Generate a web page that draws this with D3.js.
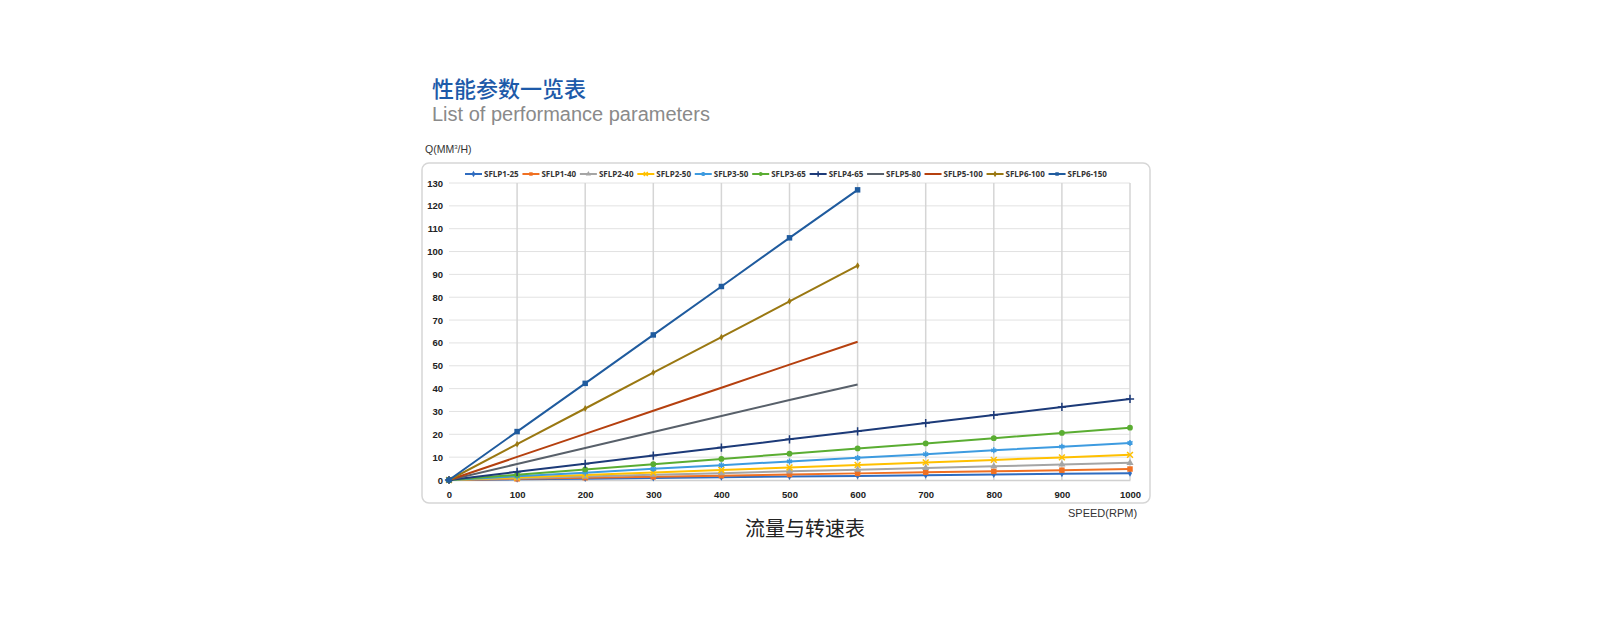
<!DOCTYPE html>
<html>
<head>
<meta charset="utf-8">
<script src="https://cdn.jsdelivr.net/npm/d3@7"></script>
<style>
  body { margin: 0; background: #fff; }
  svg { display: block; }
</style>
</head>
<body>
<script>
'use strict';

// speeds (RPM) along the x axis
var speeds = [0, 100, 200, 300, 400, 500, 600, 700, 800, 900, 1000];
var xTicks = [0, 100, 200, 300, 400, 500, 600, 700, 800, 900, 1000];
var yTicks = [0, 10, 20, 30, 40, 50, 60, 70, 80, 90, 100, 110, 120, 130];

var seriesNames = ["SFLP1-25", "SFLP1-40", "SFLP2-40", "SFLP2-50", "SFLP3-50", "SFLP3-65",
                   "SFLP4-65", "SFLP5-80", "SFLP5-100", "SFLP6-100", "SFLP6-150"];
var seriesColors = ["#2f6cc0", "#f07022", "#a5a5a5", "#ffc000", "#3d9be0", "#5aad32",
                    "#1c3a78", "#58606a", "#b5400f", "#9a7812", "#1f5b9e"];
var seriesMarkers = ["diamond", "square", "triangle", "cross", "star", "circle",
                     "plus", "none", "none", "diamond", "square"];

// flow Q, one array per pump
var q1_25  = [0, 0.3, 0.6, 0.9, 1.2, 1.5, 1.8, 2.1, 2.4, 2.7, 3.0];
var q1_40  = [0, 0.5, 1.0, 1.4, 1.9, 2.4, 2.9, 3.4, 3.8, 4.3, 4.8];
var q2_40  = [0, 0.8, 1.5, 2.3, 3.0, 3.8, 4.5, 5.3, 6.0, 6.8, 7.5];
var q2_50  = [0, 1.1, 2.2, 3.3, 4.4, 5.5, 6.6, 7.7, 8.8, 9.9, 11.0];
var q3_50  = [0, 1.6, 3.2, 4.9, 6.5, 8.1, 9.7, 11.3, 13.0, 14.6, 16.2];
var q3_65  = [0, 2.3, 4.6, 6.9, 9.2, 11.5, 13.8, 16.0, 18.3, 20.6, 22.9];
var q4_65  = [0, 3.6, 7.1, 10.7, 14.2, 17.8, 21.3, 24.9, 28.4, 32.0, 35.5];
var q5_80  = [0, 7.0, 14.0, 21.0, 28.0, 35.0, 41.8];
var q5_100 = [0, 10.1, 20.2, 30.3, 40.4, 50.5, 60.5];
var q6_100 = [0, 15.7, 31.3, 47.0, 62.5, 78.2, 93.8];
var q6_150 = [0, 21.2, 42.3, 63.5, 84.7, 106.0, 127.0];

var seriesValues = [q1_25, q1_40, q2_40, q2_50, q3_50, q3_65, q4_65, q5_80, q5_100, q6_100, q6_150];

var svg = d3.select("body").append("svg")
    .attr("width", 1600)
    .attr("height", 625);

// headings
svg.append("text")
    .attr("x", 432).attr("y", 97)
    .attr("font-family", "'Noto Sans CJK SC', sans-serif")
    .attr("font-size", 22)
    .attr("font-weight", 500)
    .attr("fill", "#1d5aa9")
    .text("性能参数一览表");

svg.append("text")
    .attr("x", 432).attr("y", 121)
    .attr("font-family", "'Liberation Sans', Arial, sans-serif")
    .attr("font-size", 20)
    .attr("fill", "#8a8a8a")
    .text("List of performance parameters");

svg.append("text")
    .attr("x", 425).attr("y", 153)
    .attr("font-family", "'Liberation Sans', Arial, sans-serif")
    .attr("font-size", 10.5)
    .attr("fill", "#333")
    .html("Q(MM<tspan font-size='6' dy='-4'>3</tspan><tspan dy='4'>/H)</tspan>");

// frame around the chart
svg.append("rect")
    .attr("x", 422).attr("y", 163)
    .attr("width", 728).attr("height", 340)
    .attr("rx", 7)
    .attr("fill", "#fff")
    .attr("stroke", "#d6d6d6")
    .attr("stroke-width", 1.5);

var plotLeft = 449, plotRight = 1130, plotTop = 183, plotBottom = 480;

var x = d3.scaleLinear().domain([0, 1000]).range([plotLeft, plotRight]);
var y = d3.scaleLinear().domain([0, 130]).range([plotBottom, plotTop]);

var g = svg.append("g");

// grid
g.selectAll(".hgrid").data(yTicks.slice(1)).enter().append("line")
    .attr("x1", plotLeft).attr("x2", plotRight)
    .attr("y1", function(d) { return y(d); })
    .attr("y2", function(d) { return y(d); })
    .attr("stroke", "#e2e2e2").attr("stroke-width", 1);

g.selectAll(".vgrid").data(xTicks.slice(1)).enter().append("line")
    .attr("y1", plotTop).attr("y2", plotBottom)
    .attr("x1", function(d) { return x(d); })
    .attr("x2", function(d) { return x(d); })
    .attr("stroke", "#d5d5d5").attr("stroke-width", 1.5);

// axes
var xAxis = g.append("g")
    .attr("transform", "translate(0," + plotBottom + ")")
    .call(d3.axisBottom(x).tickValues(xTicks).tickSize(0).tickPadding(11).tickFormat(d3.format("d")));
var yAxis = g.append("g")
    .attr("transform", "translate(" + plotLeft + ",0)")
    .call(d3.axisLeft(y).tickValues(yTicks).tickSize(0).tickPadding(6).tickFormat(d3.format("d")));

[xAxis, yAxis].forEach(function(a) {
    a.select(".domain").attr("stroke", "#d0d0d0").attr("stroke-width", 1.5);
    a.selectAll("text")
        .attr("font-family", "'Liberation Sans', Arial, sans-serif")
        .attr("font-size", 9.5)
        .attr("font-weight", "bold")
        .attr("fill", "#222");
});
yAxis.select(".domain").remove();

svg.append("text")
    .attr("x", 1068).attr("y", 517)
    .attr("font-family", "'Liberation Sans', Arial, sans-serif")
    .attr("font-size", 11)
    .attr("fill", "#333")
    .text("SPEED(RPM)");

svg.append("text")
    .attr("x", 805).attr("y", 536)
    .attr("text-anchor", "middle")
    .attr("font-family", "'Noto Sans CJK SC', sans-serif")
    .attr("font-size", 20)
    .attr("fill", "#222")
    .text("流量与转速表");

// markers
var markerSymbols = {
    diamond: d3.symbolDiamond, square: d3.symbolSquare, triangle: d3.symbolTriangle,
    cross: d3.symbolX, star: d3.symbolAsterisk, circle: d3.symbolCircle, plus: d3.symbolPlus
};

function drawMarker(sel, type, color, size) {
    if (type === "none") return;
    var sym = d3.symbol().type(markerSymbols[type]).size(size);
    var path = sel.append("path").attr("d", sym);
    if (type === "cross" || type === "star" || type === "plus") {
        path.attr("fill", "none").attr("stroke", color).attr("stroke-width", 1.5);
    } else {
        path.attr("fill", color);
    }
}

var markerSizes = {diamond: 14, square: 30, triangle: 22, cross: 24, star: 24, circle: 26, plus: 24};

var line = d3.line()
    .x(function(d, i) { return x(speeds[i]); })
    .y(function(d) { return y(d); });

seriesNames.forEach(function(name, k) {
    var vals = seriesValues[k];
    var color = seriesColors[k];
    g.append("path")
        .datum(vals)
        .attr("d", line)
        .attr("fill", "none")
        .attr("stroke", color)
        .attr("stroke-width", 2);
    var size = markerSizes[seriesMarkers[k]];
    vals.forEach(function(v, i) {
        var m = g.append("g").attr("transform", "translate(" + x(speeds[i]) + "," + y(v) + ")");
        drawMarker(m, seriesMarkers[k], color, size);
    });
});

// legend
var legend = svg.append("g");
var lx = 465, ly = 174;
seriesNames.forEach(function(name, k) {
    var item = legend.append("g").attr("transform", "translate(" + lx + "," + ly + ")");
    item.append("line")
        .attr("x1", 0).attr("x2", 17)
        .attr("stroke", seriesColors[k]).attr("stroke-width", 2);
    var m = item.append("g").attr("transform", "translate(8.5,0)");
    drawMarker(m, seriesMarkers[k], seriesColors[k], 12);
    var t = item.append("text")
        .attr("x", 19).attr("y", 3)
        .attr("font-family", "'Open Sans', sans-serif")
        .attr("font-size", 8)
        .attr("font-weight", "bold")
        .attr("fill", "#333")
        .text(name);
    lx += 19 + t.node().getComputedTextLength() + 3.8;
});
</script>
</body>
</html>
